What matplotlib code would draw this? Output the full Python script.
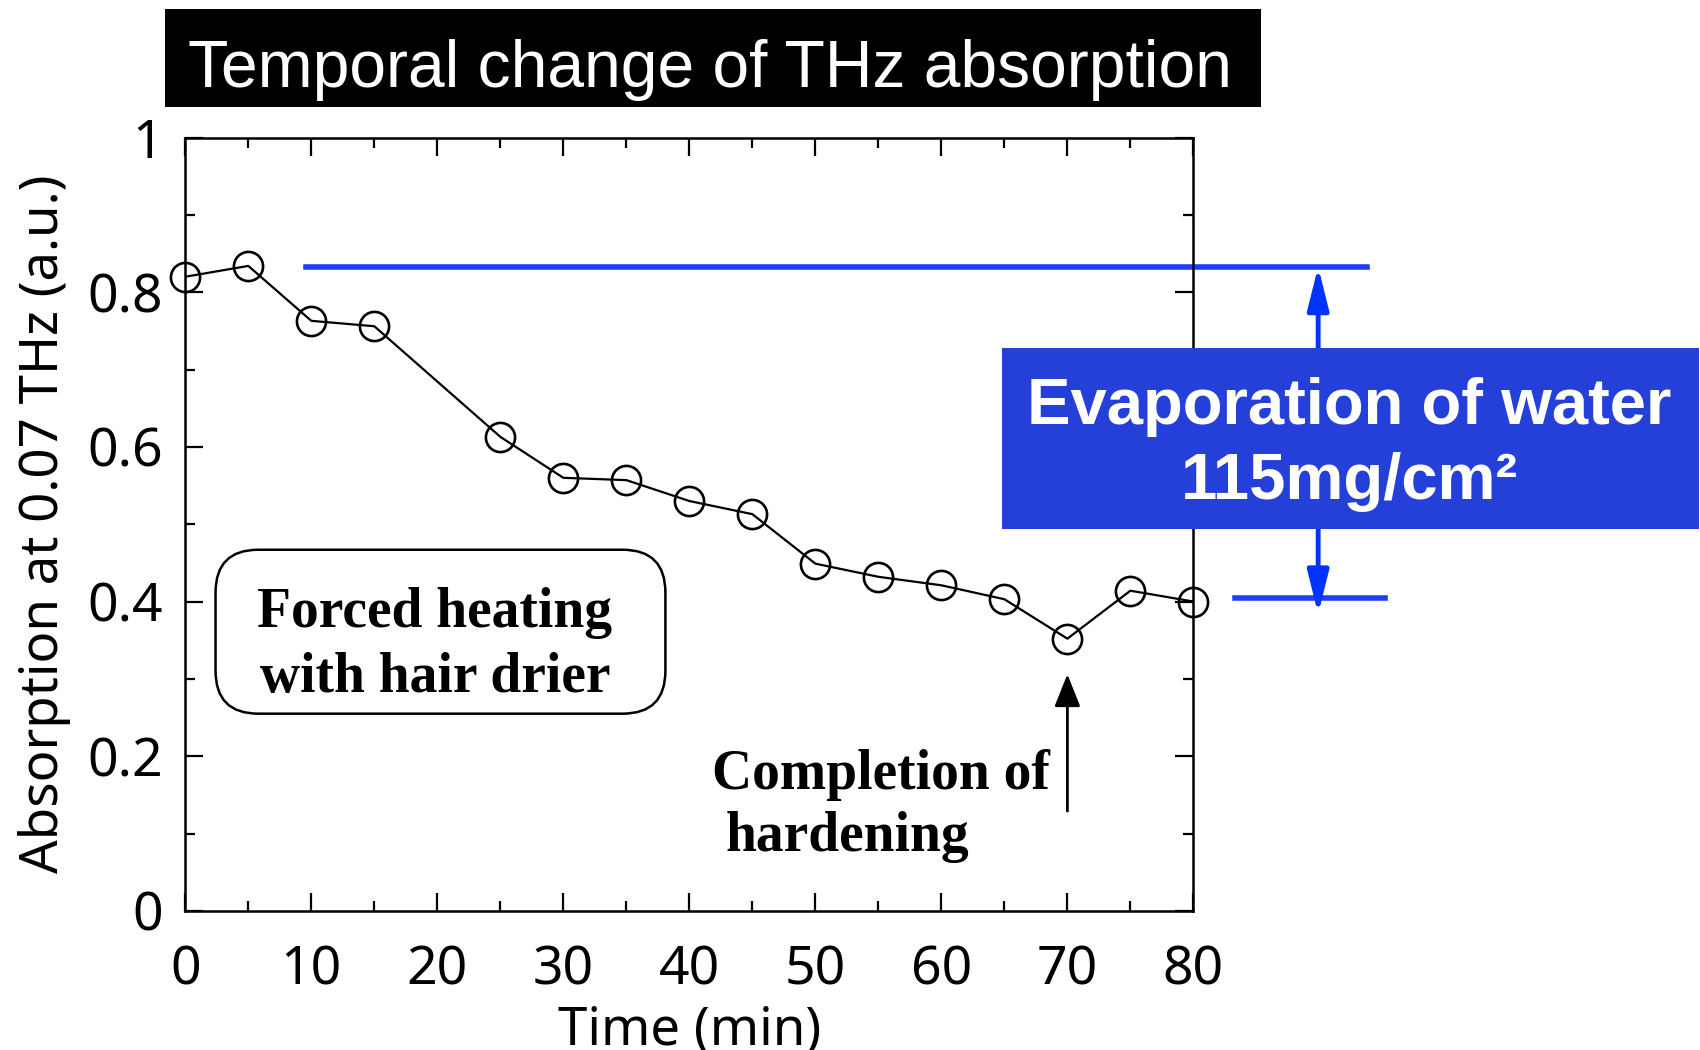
import matplotlib
matplotlib.use("Agg")
import matplotlib.pyplot as plt
from matplotlib.patches import Rectangle, FancyBboxPatch

# donnees
temps = [0, 5, 10, 15, 25, 30, 35, 40, 45, 50, 55, 60, 65, 70, 75, 80]
absorption = [0.820, 0.834, 0.763, 0.756, 0.613, 0.560, 0.557, 0.530, 0.513,
              0.449, 0.432, 0.421, 0.403, 0.352, 0.414, 0.400]
niveau_haut = 0.833
niveau_bas = 0.404

titre = "Temporal change of THz absorption"
titreX = "Time (min)"
titreY = "Absorption at 0.07 THz (a.u.)"
xticks = [0, 10, 20, 30, 40, 50, 60, 70, 80]
yticks = [0, 0.2, 0.4, 0.6, 0.8, 1]

bleu_ligne = "#1f3dff"
bleu_boite = "#2440d8"

plt.rcParams["font.family"] = ["Liberation Sans", "DejaVu Sans"]
police_axes = ["Noto Sans", "DejaVu Sans"]

fig = plt.figure(figsize=(17, 10.5), dpi=100)
ax = fig.add_axes([0.109, 0.1325, 0.593, 0.7365])

ax.plot(temps, absorption, "-", color="black", lw=1.6, zorder=3)
ax.plot(temps, absorption, "o", mfc="none", mec="black", mew=1.9, ms=21,
        clip_on=False, zorder=4)

ax.set_xlim(0, 80)
ax.set_ylim(0, 1)
ax.set_xticks(xticks)
ax.set_xticks(range(5, 80, 10), minor=True)
ax.set_yticks(yticks)
ax.set_yticklabels(["0", "0.2", "0.4", "0.6", "0.8", "1"])
ax.set_yticks([0.1, 0.3, 0.5, 0.7, 0.9], minor=True)
ax.tick_params(which="both", direction="in", top=True, right=True, width=1.6)
ax.tick_params(which="major", length=13, labelsize=38.5)
ax.tick_params(which="minor", length=7)
ax.tick_params(axis="x", which="major", pad=24)
ax.tick_params(axis="y", which="major", pad=16)
for lab in ax.get_xticklabels() + ax.get_yticklabels():
    lab.set_family(police_axes)
for s in ax.spines.values():
    s.set_linewidth(1.8)
ax.set_xlabel(titreX, fontsize=38, family=police_axes, labelpad=5)
ax.set_ylabel(titreY, fontsize=38, family=police_axes, labelpad=12)

# titre dans une boite noire
fig.patches.append(Rectangle((0.097, 0.898), 0.645, 0.0933, transform=fig.transFigure,
                             facecolor="black", edgecolor="none"))
fig.text(0.4175, 0.917, titre, color="white", fontsize=47.5, ha="center", va="baseline")

# niveaux et fleche bleue
ax.plot([9.6, 93.8], [niveau_haut, niveau_haut], color=bleu_ligne, lw=4, clip_on=False, zorder=2)
ax.plot([83.3, 95.2], [niveau_bas, niveau_bas], color=bleu_ligne, lw=4, clip_on=False, zorder=2)
ax.annotate("", xy=(89.9, niveau_haut), xytext=(89.9, niveau_bas - 0.02),
            arrowprops=dict(arrowstyle="<|-|>,head_length=2.6,head_width=0.65",
                            color="#0033ff", lw=3.5, shrinkA=0, shrinkB=0),
            annotation_clip=False, zorder=2)

ax.add_patch(Rectangle((64.8, 0.494), 55.3, 0.234, facecolor=bleu_boite,
                       edgecolor="none", clip_on=False, zorder=6))
ax.text(92.4, 0.629, "Evaporation of water", color="white", fontsize=47,
        fontweight="bold", ha="center", va="baseline", zorder=7)
ax.text(92.4, 0.533, "115mg/cm\u00b2", color="white", fontsize=47,
        fontweight="bold", ha="center", va="baseline", zorder=7)

# boite arrondie
ax.add_patch(FancyBboxPatch((2.4, 0.255), 35.7, 0.212,
                            boxstyle="round,pad=0,rounding_size=3.4",
                            mutation_aspect=0.0163, facecolor="white",
                            edgecolor="black", lw=1.8, zorder=5))
ax.text(19.8, 0.367, "Forced heating", family="Liberation Serif", fontweight="bold",
        fontsize=40, ha="center", va="baseline", zorder=6)
ax.text(19.8, 0.283, "with hair drier", family="Liberation Serif", fontweight="bold",
        fontsize=40, ha="center", va="baseline", zorder=6)

# fin du durcissement
ax.annotate("", xy=(70, 0.306), xytext=(70, 0.129),
            arrowprops=dict(arrowstyle="-|>,head_length=2.0,head_width=0.8",
                            color="black", lw=2.0, shrinkA=0, shrinkB=0))
ax.text(41.8, 0.158, "Completion of", family="Liberation Serif", fontweight="bold",
        fontsize=40, ha="left", va="baseline")
ax.text(42.9, 0.078, "hardening", family="Liberation Serif", fontweight="bold",
        fontsize=40, ha="left", va="baseline")

fig.savefig("out.png", dpi=100)
